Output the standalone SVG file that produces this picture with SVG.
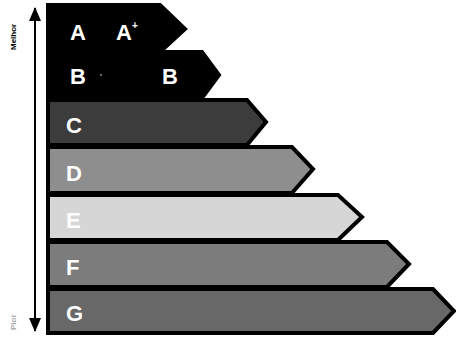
<svg xmlns="http://www.w3.org/2000/svg" width="456" height="340" viewBox="0 0 456 340">
<style>
.bar{stroke:#000;stroke-width:4;stroke-linejoin:miter}
.lbl{font-family:"Liberation Sans",Arial,sans-serif;font-weight:bold;font-size:22px;fill:#fff}
.side{font-family:"Liberation Sans",Arial,sans-serif;font-weight:bold;font-size:8px}
</style>
<defs>
<marker id="ah" viewBox="0 0 14 12" refX="13" refY="6" markerWidth="14" markerHeight="12" markerUnits="userSpaceOnUse" orient="auto-start-reverse">
<path d="M0,0 L14,6 L0,12 Z" fill="#000"/>
</marker>
</defs>
<rect width="456" height="340" fill="#fff"/>
<g id="connectors">
<line x1="35" y1="8" x2="35" y2="331" stroke="#000" stroke-width="2" marker-start="url(#ah)" marker-end="url(#ah)"/>
</g>
<g id="labels-side">
<text class="side" transform="translate(16,50) rotate(-90)" fill="#000">Melhor</text>
<text class="side" transform="translate(16,330) rotate(-90)" fill="#aaa">Pior</text>
</g>
<g id="bar-G"><polygon class="bar" fill="#686868" points="48,289 433,289 454,311 433,333 48,333"/><text class="lbl" x="66" y="321">G</text></g>
<g id="bar-F"><polygon class="bar" fill="#7c7c7c" points="48,242 387,242 409,264 387,287 48,287"/><text class="lbl" x="66" y="275">F</text></g>
<g id="bar-E"><polygon class="bar" fill="#d6d6d6" points="48,195 338,195 362,217 338,240 48,240"/><text class="lbl" x="66" y="228">E</text></g>
<g id="bar-D"><polygon class="bar" fill="#8e8e8e" points="48,147 292,147 313,169 292,193 48,193"/><text class="lbl" x="66" y="181">D</text></g>
<g id="bar-C"><polygon class="bar" fill="#3c3c3c" points="48,100 247,100 266,122 247,145 48,145"/><text class="lbl" x="66" y="133">C</text></g>
<g id="bar-B"><polygon class="bar" fill="#000" points="48,52 202,52 219,75 202,98 48,98"/><text class="lbl" x="70" y="84">B</text><circle cx="101" cy="75" r="1" fill="#888"/><text class="lbl" x="162" y="84">B</text></g>
<g id="bar-A"><polygon class="bar" fill="#000" points="48,5 160,5 185,29 160,52 48,52"/><text class="lbl" x="70" y="40">A</text><text class="lbl" x="116" y="40">A<tspan font-size="10" dy="-11">+</tspan></text></g>
</svg>
